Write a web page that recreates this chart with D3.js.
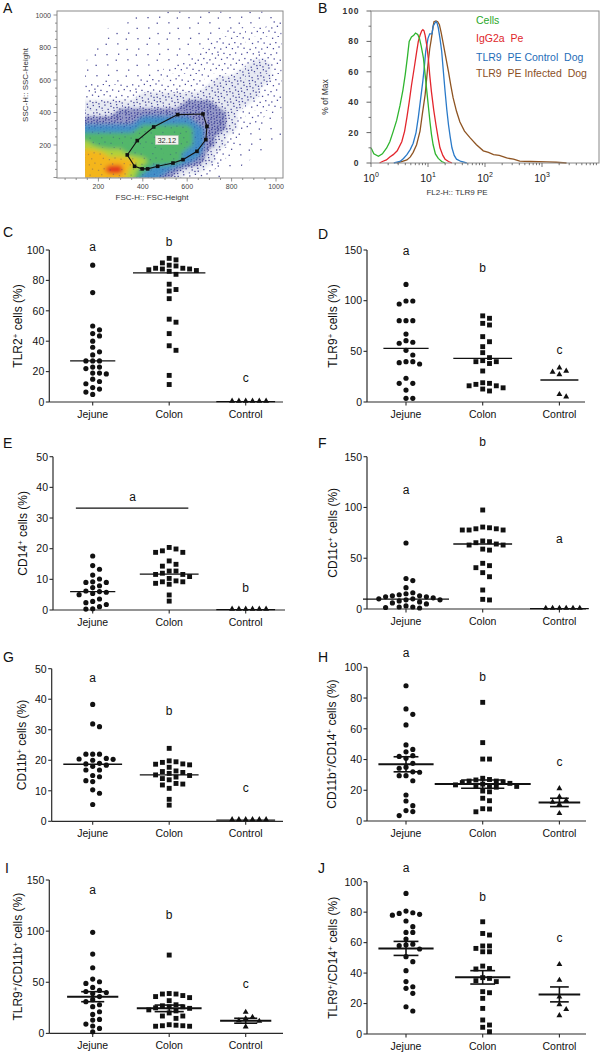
<!DOCTYPE html>
<html><head><meta charset="utf-8">
<script src="https://cdn.jsdelivr.net/npm/d3@7"></script>
<style>
html,body{margin:0;padding:0;background:#fff}
svg{display:block}
text{font-family:"Liberation Sans",Arial,Helvetica,sans-serif;fill:#111}
</style></head><body>
<svg id="fig" width="600" height="1052"></svg>
<script>
// ================= DATA =================
const groups = ["Jejune", "Colon", "Control"];

// ---- Panel A : FSC/SSC density (levels 0-9) ----
const fscTicks = [200, 400, 600, 800, 1000];
const sscTicks = [200, 400, 600, 800, 1000];
const densityFsc = [100,150,200,250,300,350,400,450,500,550,600,650,700,750,800,850,900,950,1000];
const densitySsc = [1000,950,900,850,800,750,700,650,600,550,500,450,400,350,300,250,200,150,100,50,0];
const densityRows = [
  "0000001111111111111",
  "0000011111111111112",
  "0001111111111122222",
  "0001111111111222222",
  "0011111111112222222",
  "0011111111122222222",
  "1111111111222222332",
  "1111111122222223332",
  "1111112222222333332",
  "2222222222223333322",
  "2222223333333333322",
  "3333333333444333222",
  "3333444444444432221",
  "4444445555544432211",
  "5555556666654432111",
  "6666666666654321111",
  "7766666666654321110",
  "8887766666553211100",
  "8888887666543211000",
  "8889976554332110000",
  "8888875543221100000"
];
const gateFsc = [671, 557, 449, 375, 330, 363, 397, 422, 467, 536, 581, 644, 684, 689];
const gateSsc = [391, 387, 311, 227, 139, 69, 53, 53, 69, 89, 110, 161, 233, 315];
const gateText = "32.12";
const gateTextPos = [508, 230];

// ---- Panel B : histograms (x = log10 FL2, y = % of max) ----
const histNames = ["Cells", "IgG2a  Pe", "TLR9  PE Control  Dog", "TLR9  PE Infected  Dog"];
const cellsLog = [0, 0.05, 0.13, 0.2, 0.275, 0.33, 0.39, 0.45, 0.51, 0.56, 0.6, 0.64, 0.67, 0.71, 0.75, 0.78, 0.82, 0.85, 0.88, 0.92, 0.95, 0.98, 1.01, 1.035, 1.06, 1.09, 1.13, 1.18, 1.24, 1.3];
const cellsPct = [10, 6, 4.4, 6, 9.9, 14, 20.8, 28, 38, 48, 58, 70, 80, 83, 84, 85.5, 84.5, 82, 77, 69, 58, 47, 36, 27, 19, 12, 6, 3, 1, 0];
const iggLog = [0.15, 0.2, 0.27, 0.33, 0.39, 0.46, 0.54, 0.59, 0.63, 0.67, 0.71, 0.76, 0.8, 0.83, 0.86, 0.89, 0.91, 0.93, 0.95, 0.98, 1.005, 1.03, 1.06, 1.1, 1.14, 1.18, 1.21, 1.26, 1.3, 1.36, 1.42];
const iggPct = [0, 1, 2, 4, 5.5, 8, 14, 21, 30, 40, 51, 63, 73, 80, 84, 87, 87.7, 87, 84, 77, 69, 58, 47, 35, 25, 16, 10, 5, 2.5, 1, 0];
const ctrlLog = [0.4, 0.51, 0.57, 0.63, 0.69, 0.74, 0.79, 0.83, 0.87, 0.91, 0.94, 0.96, 1.0, 1.03, 1.07, 1.09, 1.12, 1.14, 1.16, 1.18, 1.21, 1.24, 1.27, 1.3, 1.33, 1.36, 1.39, 1.42, 1.46, 1.5, 1.58, 1.68];
const ctrlPct = [0, 1, 3, 5.5, 9, 13, 20, 30, 42, 54, 65, 73.5, 82, 85, 85, 90, 92, 93, 92, 89, 82, 73.5, 60, 47, 35, 25, 17, 10, 5, 2.5, 1, 0];
const infLog = [0.45, 0.55, 0.63, 0.69, 0.74, 0.8, 0.86, 0.9, 0.95, 1.0, 1.03, 1.06, 1.09, 1.105, 1.14, 1.17, 1.2, 1.23, 1.27, 1.31, 1.36, 1.4, 1.44, 1.5, 1.56, 1.64, 1.74, 1.85, 1.97, 2.06, 2.15, 2.25, 2.38, 2.5, 2.61, 2.8, 3.08, 3.25, 3.43];
const infPct = [0, 1, 2, 4, 7, 12, 21, 32, 45, 65, 75, 82, 90, 93, 93.5, 93, 91, 86, 78, 70, 60, 51, 43, 34, 27, 21, 16.5, 12, 8, 7, 5.5, 5, 3.3, 2.5, 1.2, 1, 0.8, 0.5, 0];
const histDecades = [0, 1, 2, 3];
const pctTicks = [0, 20, 40, 60, 80, 100];

// ---- Panels C-J : dot plots ----
const cJejune = [90, 72, 50, 47.5, 45, 43.5, 40, 36, 33, 31, 27, 27, 27, 23, 23, 22, 19, 18.5, 19, 15, 13.5, 12, 9.5, 8.5, 6.5, 5];
const cColon = [94.5, 93.5, 91.5, 90, 89.5, 88, 88, 87.5, 87.5, 87, 86.5, 86, 84, 77.5, 74, 73, 68, 54.5, 52.5, 45, 37, 34, 17.5, 11.5];
const cControl = [0.3, 0.3, 0.3, 0.3, 0.3, 0.3];
const cCenter = [27, 85, 0.3];
const cLetters = ["a", "b", "c"];
const cLetterVal = [102, 105.5, 15.6];

const dJejune = [116, 99.7, 99.7, 96.7, 80.3, 80.3, 80.3, 67, 60.5, 59, 58, 51, 46.4, 39.8, 38.8, 37.5, 39.8, 23.4, 18.4, 18.4, 11.8, 3.6, 3.6];
const dColon = [85, 82.6, 77.6, 76, 64.5, 59.5, 54.6, 48.7, 43.8, 40.8, 39.8, 38, 39.8, 30.6, 19, 18.4, 16, 14, 12.8, 16, 17.4, 10.9];
const dControl = [33.2, 29, 26.6, 30, 4.6, 6.9];
const dCenter = [53, 43, 21.7];
const dLetters = ["a", "b", "c"];
const dLetterVal = [149, 132.6, 51.3];

const eJejune = [17.6, 14.5, 13.3, 11.4, 10.1, 9.2, 9.0, 9.0, 7.9, 7.3, 6.2, 6.0, 5.8, 5.4, 5.0, 3.6, 2.8, 2.4, 1.8, 1.1, 0.4, 0.3];
const eColon = [20.4, 19.9, 19.3, 18.8, 18.8, 16, 14.9, 14.3, 12.7, 12.7, 12, 11.6, 11.6, 10.9, 10.3, 9.5, 9.2, 9.2, 8.7, 8.4, 4.9, 2.9];
const eControl = [0.15, 0.15, 0.15, 0.15, 0.15, 0.15];
const eCenter = [6, 11.7, 0.15];
const eLetters = ["a", "b"];
const eLetterAt = [0.52, 2];          // category index position
const eLetterVal = [36.8, 7.2];
const eBracket = [-0.22, 1.25, 33.2]; // from index, to index, value

const fJejune = [65, 30, 28, 21, 16, 15, 14, 13, 13, 12, 12, 11, 10, 10, 9, 9, 8, 7, 6, 5, 3, 2, 2, 1.5, 1];
const fColon = [97.5, 80.7, 79, 77.8, 77.8, 77.8, 79, 80, 65.3, 66.3, 67, 63, 63, 64, 58, 59, 45, 42.7, 40.7, 35.8, 31.8, 18.7, 9.5, 8.9];
const fControl = [0.3, 0.3, 0.3, 0.3, 0.3, 0.3];
const fCenter = [9.8, 64, 0.3];
const fLetters = ["a", "b", "a"];
const fLetterVal = [117.5, 164, 69];

const gJejune = [38.3, 31.9, 31, 22, 22, 22, 20.6, 20.4, 20.3, 20, 19, 18.8, 18.4, 18, 16.8, 16.8, 15, 14.6, 13.3, 13, 10.3, 9.2, 5.5];
const gColon = [23.9, 19.8, 19.5, 19.3, 18.8, 18.7, 18.5, 17.7, 16.5, 16.3, 16, 15.7, 15.2, 15, 14.5, 14, 13.6, 12.4, 12.2, 11.9, 10.8, 7.2, 5.3];
const gControl = [0.4, 0.4, 0.4, 0.4, 0.4, 0.4];
const gCenter = [18.7, 15.2, 0.4];
const gLetters = ["a", "b", "c"];
const gLetterVal = [47.1, 36, 11];

const hJejune = [88, 72.9, 69.4, 62.5, 49.5, 46.6, 45, 42.5, 42, 40.8, 37.5, 35, 34.3, 32, 31.7, 29.5, 29.5, 26.2, 16.9, 13, 10, 6.8, 6.1, 3.5];
const hColon = [77.2, 51, 40.3, 40.3, 27.8, 27, 26.7, 26, 26, 25.5, 25, 24.5, 24, 23.5, 23, 22.5, 22.5, 22, 19.5, 19, 14.8, 13.2, 8, 7.8, 6];
const hControl = [20.8, 15.4, 13, 12, 10.4, 4.6];
const hMean = [36.9, 24, 12.1];
const hSem = [4.9, 2.7, 2.7];
const hLetters = ["a", "b", "c"];
const hLetterVal = [109, 93.9, 38.6];

const iJejune = [98.8, 77.6, 64.2, 53.1, 50.5, 48.9, 45, 42, 41, 40, 39, 36, 33, 31, 28, 26.1, 21.2, 18.6, 13.7, 13, 9.1, 7.2, 4.9, 1.6];
const iColon = [76.6, 39, 38.5, 38.5, 37, 36, 35, 32, 28, 27, 26, 26, 25, 24.5, 23, 22, 20, 17, 17, 14.7, 8.5, 8, 7.5, 7.5, 7, 7];
const iControl = [20.2, 15.3, 14, 12, 11.4, 5.9];
const iMean = [35.9, 24.5, 12.4];
const iSem = [4.9, 3.2, 2.4];
const iLetters = ["a", "b", "c"];
const iLetterVal = [140, 115.3, 48.6];

const jJejune = [92.3, 80.7, 79.6, 79.2, 78.6, 78, 74.2, 70.5, 66.7, 66.7, 62.4, 59, 58.5, 58, 55.8, 50.8, 47.5, 41.6, 34.4, 31, 30, 26.7, 17.9, 15.1];
const jColon = [73.7, 66, 65, 57.8, 57.8, 56.2, 54, 54, 44.6, 43, 42.7, 37, 36.5, 35, 34.4, 27.8, 27.1, 23.4, 16.8, 9.2, 5.9, 4.4, 1.5];
const jControl = [45.3, 35, 24, 19, 15.8, 11.8];
const jMean = [56.2, 37.2, 26];
const jSem = [4.6, 4.4, 4.9];
const jLetters = ["a", "b", "c"];
const jLetterVal = [109, 90, 63];

const ticks100 = [0, 20, 40, 60, 80, 100];
const ticks150 = [0, 50, 100, 150];
const ticks50 = [0, 10, 20, 30, 40, 50];

// ================= DRAWING =================
const svg = d3.select("#fig");
const defs = svg.append("defs");

function panelLetter(t, x, y) {
  svg.append("text").attr("x", x).attr("y", y).text(t)
    .style("font-size", "14px");
}

// ---------- Panel A ----------
(function () {
  const xA = d3.scaleLinear().domain([0, 1000]).range([54, 276]);
  const yA = d3.scaleLinear().domain([0, 1000]).range([177.5, 15]);
  const box = { l: 57, r: 283, t: 11, b: 178 };
  const g = svg.append("g");

  defs.append("clipPath").attr("id", "clipA").append("rect")
    .attr("x", xA(140)).attr("y", box.t + 0.5)
    .attr("width", box.r - xA(140) - 0.5).attr("height", box.b - box.t - 1);

  // speckle texture (styling only): irregular dot placement in a large tile
  const TW = 41, TH = 37;
  const tex = d3.range(220).map(k => [((k * 0.7548776662 + 0.31) % 1) * TW, ((k * 0.5698402910 + 0.47) % 1) * TH]);
  const texRanges = [[0, 16], [16, 50], [50, 105], [105, 215]];
  const patCol = ["#2b2b84", "#28288a", "#2a2a8e", "#2a3090"];
  texRanges.forEach((rg, k) => {
    const p = defs.append("pattern").attr("id", "spk" + k)
      .attr("patternUnits", "userSpaceOnUse").attr("width", TW).attr("height", TH);
    tex.slice(rg[0], rg[1]).forEach(d => p.append("rect").attr("x", d[0]).attr("y", d[1])
      .attr("width", 1.3).attr("height", 1.3).attr("fill", patCol[k]).attr("opacity", 0.85));
  });
  const blur = defs.append("filter").attr("id", "blurA").attr("x", "-10%").attr("y", "-10%").attr("width", "120%").attr("height", "120%");
  blur.append("feGaussianBlur").attr("stdDeviation", 2);
  const blur2 = defs.append("filter").attr("id", "blurB").attr("x", "-10%").attr("y", "-10%").attr("width", "120%").attr("height", "120%");
  blur2.append("feGaussianBlur").attr("stdDeviation", 1.5);

  const nx = densityFsc.length, ny = densitySsc.length;
  const grid = densityRows.flatMap(r => Array.from(r, Number));
  const fStep = densityFsc[1] - densityFsc[0];
  const sStep = densitySsc[0] - densitySsc[1];
  const proj = d3.geoTransform({
    point(x, y) {
      this.stream.point(xA(densityFsc[0] + (x - 0.5) * fStep), yA(densitySsc[0] - (y - 0.5) * sStep));
    }
  });
  const cpath = d3.geoPath(proj);
  const thr = [0.5, 1.5, 2.5, 3.5, 4.5, 5.5, 6.5, 7.5, 8.5];
  const conts = d3.contours().size([nx, ny]).thresholds(thr)(grid);

  const cg = g.append("g").attr("clip-path", "url(#clipA)");
  cg.append("path").attr("d", cpath(conts[2])).attr("fill", "#3a3f98").attr("fill-opacity", 0.12).attr("filter", "url(#blurB)");
  cg.append("path").attr("d", cpath(conts[3])).attr("fill", "#333a95").attr("fill-opacity", 0.45).attr("filter", "url(#blurB)");
  conts.slice(0, 4).forEach((c, i) => cg.append("path").attr("d", cpath(c)).attr("fill", `url(#spk${i})`));
  const dense = cg.append("g").attr("filter", "url(#blurA)");
  const dFill = ["#3b8fc8", "#55b866", "#b0d23a", "#f4b61e", "#e3321f"];
  const dOp = [0.9, 0.95, 1, 1, 1];
  conts.slice(4).forEach((c, i) => dense.append("path").attr("d", cpath(c))
    .attr("fill", dFill[i]).attr("fill-opacity", dOp[i]));
  cg.append("path").attr("d", cpath(conts[4])).attr("fill", "url(#spk1)").attr("opacity", 0.35);

  // frame
  g.append("rect").attr("x", box.l).attr("y", box.t).attr("width", box.r - box.l).attr("height", box.b - box.t)
    .attr("fill", "none").attr("stroke", "#8a8a8a").attr("stroke-width", 1);
  for (let v = 50; v <= 1000; v += 50) {
    const major = v % 200 === 0;
    g.append("line").attr("x1", xA(v)).attr("x2", xA(v)).attr("y1", box.b).attr("y2", box.b + (major ? 3.5 : 2))
      .attr("stroke", "#777").attr("stroke-width", 0.8);
  }
  for (let v = 0; v <= 1000; v += 50) {
    const major = v % 200 === 0;
    g.append("line").attr("x1", box.l).attr("x2", box.l - (major ? 3.5 : 2)).attr("y1", yA(v)).attr("y2", yA(v))
      .attr("stroke", "#777").attr("stroke-width", 0.8);
  }
  fscTicks.forEach(v => g.append("text").attr("x", xA(v)).attr("y", 188.5).attr("text-anchor", "middle")
    .text(v).style("font-size", "7px").style("fill", "#444"));
  sscTicks.forEach(v => g.append("text").attr("x", 51).attr("y", yA(v) + 2.5).attr("text-anchor", "end")
    .text(v).style("font-size", "7px").style("fill", "#444"));
  g.append("text").attr("x", 152).attr("y", 200).attr("text-anchor", "middle")
    .text("FSC-H:: FSC-Height").style("font-size", "8px").style("fill", "#333");
  g.append("text").attr("transform", "translate(28,85) rotate(-90)").attr("text-anchor", "middle")
    .text("SSC-H:: SSC-Height").style("font-size", "8px").style("fill", "#333");

  // gate
  const gpts = gateFsc.map((f, i) => [xA(f), yA(gateSsc[i])]);
  g.append("path").attr("d", d3.line().curve(d3.curveLinearClosed)(gpts))
    .attr("fill", "none").attr("stroke", "#111").attr("stroke-width", 1.1);
  g.selectAll(null).data(gpts).enter().append("rect")
    .attr("x", d => d[0] - 1.8).attr("y", d => d[1] - 1.8).attr("width", 3.6).attr("height", 3.6).attr("fill", "#111");
  const tx = xA(gateTextPos[0]), ty = yA(gateTextPos[1]);
  g.append("rect").attr("x", tx - 11.5).attr("y", ty - 4.5).attr("width", 23).attr("height", 9)
    .attr("fill", "#f4f4ee").attr("stroke", "#bbb").attr("stroke-width", 0.5);
  g.append("text").attr("x", tx).attr("y", ty + 2.6).attr("text-anchor", "middle").text(gateText)
    .style("font-size", "7.5px").style("fill", "#333");
  panelLetter("A", 3, 13);
})();

// ---------- Panel B ----------
(function () {
  const xB = d3.scaleLinear().domain([0, 4]).range([371, 599]);
  const yB = d3.scaleLinear().domain([0, 100]).range([163, 11]);
  const g = svg.append("g");
  const series = [[cellsLog, cellsPct], [iggLog, iggPct], [ctrlLog, ctrlPct], [infLog, infPct]];
  const colors = ["#2fb52f", "#e3262d", "#2a7ac9", "#8e5422"];
  const textCols = ["#2aa82a", "#e0262a", "#1f6db8", "#8b4f1f"];
  const line = d3.line().x(d => xB(d[0])).y(d => yB(d[1]));
  [3, 2, 1, 0].forEach(i => {
    const [lx, py] = series[i];
    g.append("path").attr("d", line(lx.map((v, k) => [v, py[k]])))
      .attr("fill", "none").attr("stroke", colors[i]).attr("stroke-width", 1.3);
  });
  g.append("rect").attr("x", 371).attr("y", 11).attr("width", 228).attr("height", 152)
    .attr("fill", "none").attr("stroke", "#888").attr("stroke-width", 1);
  pctTicks.forEach(v => {
    g.append("line").attr("x1", 366.5).attr("x2", 371).attr("y1", yB(v)).attr("y2", yB(v)).attr("stroke", "#555").attr("stroke-width", 0.9);
    g.append("text").attr("x", 359.5).attr("y", yB(v) + 3).attr("text-anchor", "end").text(v)
      .style("font-size", "8.5px").style("font-weight", "bold").style("letter-spacing", "0.9px").style("fill", "#333");
  });
  [10, 30, 50, 70, 90].forEach(v => g.append("line").attr("x1", 368.5).attr("x2", 371).attr("y1", yB(v)).attr("y2", yB(v)).attr("stroke", "#555").attr("stroke-width", 0.8));
  for (let d = 0; d < 4; d++) {
    for (let m = 1; m <= 9; m++) {
      const lx = d + Math.log10(m);
      g.append("line").attr("x1", xB(lx)).attr("x2", xB(lx)).attr("y1", 163).attr("y2", 163 + (m === 1 ? 4 : 2.2))
        .attr("stroke", "#555").attr("stroke-width", 0.8);
    }
  }
  histDecades.forEach(d => {
    const t = g.append("text").attr("x", xB(d)).attr("y", 181.5).attr("text-anchor", "middle")
      .style("font-size", "10.5px").style("fill", "#222");
    t.append("tspan").text("10");
    t.append("tspan").attr("dy", -4.5).style("font-size", "7px").text(d);
  });
  g.append("text").attr("x", 457).attr("y", 195).attr("text-anchor", "middle")
    .text("FL2-H:: TLR9 PE").style("font-size", "8px").style("fill", "#333");
  g.append("text").attr("transform", "translate(328,97) rotate(-90)").attr("text-anchor", "middle")
    .text("% of Max").style("font-size", "8.5px").style("fill", "#333");
  const ly = [20, 38.7, 57.3, 73];
  histNames.forEach((n, i) => g.append("text").attr("x", 476).attr("y", ly[i] + 3.7).text(n)
    .attr("xml:space", "preserve").style("white-space", "pre")
    .style("font-size", "10.5px").style("fill", textCols[i]));
  panelLetter("B", 318, 13);
})();

// ---------- Dot plot panels ----------
function swarm(vals, y, slot, minD) {
  const idx = d3.range(vals.length).sort((a, b) => vals[b] - vals[a]);
  const placed = [], off = [];
  idx.forEach(i => {
    const py = y(vals[i]);
    for (let k = 0; k < 40; k++) {
      const s = k === 0 ? 0 : (k % 2 ? (k + 1) / 2 : -k / 2);
      const px = s * slot;
      if (placed.every(q => (q[0] - px) ** 2 + (q[1] - py) ** 2 >= minD * minD)) {
        off[i] = px; placed.push([px, py]); break;
      }
    }
  });
  return off;
}

const symbols = [d3.symbolCircle, d3.symbolSquare, d3.symbolTriangle];
const symSize = [21, 24, 15];

function drawDot(p) {
  const y = d3.scaleLinear().domain([0, p.max]).range([p.bottom, p.top]);
  const x = d3.scalePoint().domain(groups).range(p.centers);
  const step = x.step();
  const xi = i => x(groups[0]) + i * step;
  const g = svg.append("g");
  const ax = "#2a2a2a";
  g.append("line").attr("x1", p.axisX).attr("x2", p.axisX).attr("y1", y(0)).attr("y2", y(p.max))
    .attr("stroke", ax).attr("stroke-width", 1.2);
  g.append("line").attr("x1", p.axisX).attr("x2", p.axisEnd).attr("y1", y(0)).attr("y2", y(0))
    .attr("stroke", ax).attr("stroke-width", 1.2);
  p.ticks.forEach(t => {
    g.append("line").attr("x1", p.axisX - 3.5).attr("x2", p.axisX).attr("y1", y(t)).attr("y2", y(t))
      .attr("stroke", ax).attr("stroke-width", 1.1);
    g.append("text").attr("x", p.axisX - 5).attr("y", y(t) + 3.8).attr("text-anchor", "end").text(t)
      .style("font-size", "10.5px");
  });
  groups.forEach(gn => {
    g.append("line").attr("x1", x(gn)).attr("x2", x(gn)).attr("y1", y(0)).attr("y2", y(0) + 3.5)
      .attr("stroke", ax).attr("stroke-width", 1.1);
    g.append("text").attr("x", x(gn)).attr("y", y(0) + 15.5).attr("text-anchor", "middle").text(gn)
      .style("font-size", "10.5px");
  });
  const yl = g.append("text")
    .attr("transform", `translate(${p.labelX + 4.3},${(p.top + p.bottom) / 2}) rotate(-90)`)
    .attr("text-anchor", "middle").style("font-size", "12px");
  p.label.forEach(part => {
    if (part.sup) {
      yl.append("tspan").attr("dy", -4.5).style("font-size", "8px").text(part.t);
    } else {
      const ts = yl.append("tspan").text(part.t);
      if (part.after) ts.attr("dy", 4.5);
    }
  });
  p.data.forEach((vals, gi) => {
    const cx = x(groups[gi]);
    const offs = swarm(vals, y, 6.8, 5.7);
    const sym = d3.symbol().type(symbols[gi]).size(symSize[gi]);
    g.selectAll(null).data(vals).enter().append("path")
      .attr("d", sym)
      .attr("transform", (v, k) => `translate(${cx + offs[k]},${y(v) - (gi === 2 ? 0.6 : 0)})`)
      .attr("fill", "#111");
    const half = Math.max(d3.max(offs, Math.abs) + p.extra, 19);
    const cv = p.center[gi];
    g.append("line").attr("x1", cx - half).attr("x2", cx + half).attr("y1", y(cv)).attr("y2", y(cv))
      .attr("stroke", "#111").attr("stroke-width", p.sem ? 2 : 1.3);
    if (p.sem) {
      const s = p.sem[gi], cap = half * 0.45;
      g.append("line").attr("x1", cx).attr("x2", cx).attr("y1", y(cv - s)).attr("y2", y(cv + s))
        .attr("stroke", "#111").attr("stroke-width", 1.6);
      [cv - s, cv + s].forEach(v => g.append("line").attr("x1", cx - cap).attr("x2", cx + cap)
        .attr("y1", y(v)).attr("y2", y(v)).attr("stroke", "#111").attr("stroke-width", 1.6));
    }
  });
  p.letters.forEach((t, i) => {
    const lx = p.letterAt ? xi(p.letterAt[i]) : x(groups[i]);
    g.append("text").attr("x", lx).attr("y", y(p.letterVal[i]) + 4).attr("text-anchor", "middle")
      .text(t).style("font-size", "12px");
  });
  if (p.bracket) {
    g.append("line").attr("x1", xi(p.bracket[0])).attr("x2", xi(p.bracket[1]))
      .attr("y1", y(p.bracket[2])).attr("y2", y(p.bracket[2])).attr("stroke", "#111").attr("stroke-width", 1.2);
  }
  panelLetter(p.id, p.letterPos[0], p.letterPos[1]);
}

const L = [92.7, 245.7], R = [406, 559.4];
const sup = t => ({ t, sup: true });
const txt = (t, after) => ({ t, after });

drawDot({ id: "C", letterPos: [3, 237], axisX: 49.3, axisEnd: 283, centers: L, top: 250, bottom: 402, max: 100, ticks: ticks100,
  labelX: 18, label: [txt("TLR2"), sup("+"), txt(" cells (%)", true)],
  data: [cJejune, cColon, cControl], center: cCenter, extra: 9, letters: cLetters, letterVal: cLetterVal });
drawDot({ id: "D", letterPos: [318, 239], axisX: 367, axisEnd: 585, centers: R, top: 250, bottom: 402, max: 150, ticks: ticks150,
  labelX: 333, label: [txt("TLR9"), sup("+"), txt(" cells (%)", true)],
  data: [dJejune, dColon, dControl], center: dCenter, extra: 9, letters: dLetters, letterVal: dLetterVal });
drawDot({ id: "E", letterPos: [3, 448], axisX: 53, axisEnd: 285, centers: L, top: 456.7, bottom: 610, max: 50, ticks: ticks50,
  labelX: 23, label: [txt("CD14"), sup("+"), txt(" cells (%)", true)],
  data: [eJejune, eColon, eControl], center: eCenter, extra: 9, letters: eLetters, letterVal: eLetterVal,
  letterAt: eLetterAt, bracket: eBracket });
drawDot({ id: "F", letterPos: [318, 448], axisX: 367, axisEnd: 586, centers: R, top: 456.7, bottom: 609, max: 150, ticks: ticks150,
  labelX: 333, label: [txt("CD11c"), sup("+"), txt(" cells (%)", true)],
  data: [fJejune, fColon, fControl], center: fCenter, extra: 9, letters: fLetters, letterVal: fLetterVal });
drawDot({ id: "G", letterPos: [3, 662], axisX: 51.7, axisEnd: 283, centers: L, top: 668.7, bottom: 821.3, max: 50, ticks: ticks50,
  labelX: 22, label: [txt("CD11b"), sup("+"), txt(" cells (%)", true)],
  data: [gJejune, gColon, gControl], center: gCenter, extra: 9, letters: gLetters, letterVal: gLetterVal });
drawDot({ id: "H", letterPos: [318, 662], axisX: 367, axisEnd: 586, centers: R, top: 667.3, bottom: 821, max: 100, ticks: ticks100,
  labelX: 332, label: [txt("CD11b"), sup("+"), txt("/CD14", true), sup("+"), txt(" cells (%)", true)],
  data: [hJejune, hColon, hControl], center: hMean, sem: hSem, extra: 14, letters: hLetters, letterVal: hLetterVal });
drawDot({ id: "I", letterPos: [5, 873], axisX: 49.3, axisEnd: 283, centers: L, top: 880, bottom: 1033.4, max: 150, ticks: ticks150,
  labelX: 18, label: [txt("TLR9"), sup("+"), txt("/CD11b", true), sup("+"), txt(" cells (%)", true)],
  data: [iJejune, iColon, iControl], center: iMean, sem: iSem, extra: 12, letters: iLetters, letterVal: iLetterVal });
drawDot({ id: "J", letterPos: [318, 873], axisX: 367, axisEnd: 586, centers: R, top: 881.7, bottom: 1034, max: 100, ticks: ticks100,
  labelX: 333, label: [txt("TLR9"), sup("+"), txt("/CD14", true), sup("+"), txt(" cells (%)", true)],
  data: [jJejune, jColon, jControl], center: jMean, sem: jSem, extra: 14, letters: jLetters, letterVal: jLetterVal });
</script>
</body></html>
